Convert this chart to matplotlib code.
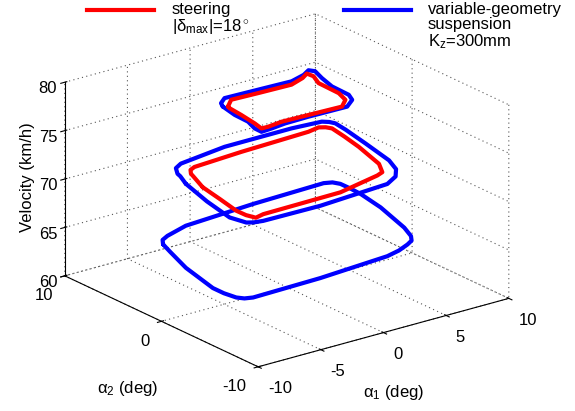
import matplotlib
matplotlib.use('Agg')
import matplotlib.pyplot as plt
from matplotlib.lines import Line2D

plt.rcParams['font.family'] = ['Liberation Sans', 'DejaVu Sans']
plt.rcParams['mathtext.fontset'] = 'custom'
plt.rcParams['mathtext.rm'] = 'Liberation Sans'
plt.rcParams['mathtext.it'] = 'Liberation Sans:italic'
plt.rcParams['axes.unicode_minus'] = False

# velocity levels of the loops (km/h)
v_low = 65
v_mid = 72
v_top = 79

# variable-geometry suspension (blue), alpha1 / alpha2 in deg
blue_low_a1 = [-6.85, -6.4, -5.72, -3.71, 2.02, 7.82, 8.35, 8.59, 8.6, 8.53, 8.1, 7.12, 6.56, 6.1, 5.47, 4.4, 3.2,
               -2.53, -8.01, -8.55, -8.86, -9.03, -9.03, -8.22, -7.3]
blue_low_a2 = [3.92, 4.55, 4.93, 5.64, 6.11, 6.33, 6.1, 5.6, 4.6, 3.42, 0.79, -2.92, -4.34, -5.0, -5.39, -5.9, -6.25,
               -6.75, -6.9, -6.7, -6.26, -5.2, -4.06, -0.22, 2.6]

blue_mid_a1 = [-6.48, -5.95, -5.82, -5.3, -4.57, -0.55, 4.81, 7.06, 7.4, 7.56, 7.4, 6.92, 6.3, 5.71, 4.9, 3.68, -2.04,
               -6.55, -7.2, -7.58, -7.88, -7.3]
blue_mid_a2 = [2.04, 3.3, 3.76, 4.6, 5.04, 5.72, 5.74, 5.53, 5.2, 4.78, 3.5, 0.81, -2.41, -3.9, -4.9, -5.63, -6.12,
               -6.05, -5.9, -5.64, -4.3, -1.2]

blue_top_a1 = [-3.59, -3.32, -2.6, 0.0, 2.59, 3.9, 4.63, 4.86, 4.47, 4.08, 4.03, 3.66, 2.68, -0.35, -2.26, -3.48,
               -4.35, -4.33, -3.94, -3.89]
blue_top_a2 = [1.97, 2.5, 3.07, 2.97, 2.86, 3.3, 3.76, 3.37, 2.17, 0.62, -1.19, -2.02, -2.77, -2.7, -2.75, -2.94,
               -3.02, -2.3, -1.1, 0.35]

# steering |delta_max| = 18 deg (red)
red_mid_a1 = [-5.99, -5.3, -5.14, -4.75, -4.24, -0.25, 5.3, 6.28, 6.65, 6.85, 6.6, 6.22, 5.42, 4.69, 4.08, 0.41,
              -5.83, -6.58, -6.8, -6.82, -6.4]
red_mid_a2 = [0.94, 2.8, 3.25, 3.8, 4.06, 4.38, 4.63, 4.85, 4.6, 4.2, 2.6, 0.61, -2.51, -3.8, -4.07, -5.01,
              -5.12, -5.33, -4.6, -3.62, -1.4]

red_top_a1 = [-3.33, -2.44, -0.37, 2.23, 3.5, 4.19, 4.24, 3.76, 3.7, 3.32, 2.42, -0.17, -2.25, -3.47, -3.99, -3.79,
              -3.56, -3.43]
red_top_a2 = [1.77, 2.59, 2.49, 2.4, 2.9, 3.36, 2.73, 1.59, -0.58, -1.76, -2.57, -2.46, -2.38, -2.57, -2.55, -1.6,
              0.1, 1.47]


def loop(ax, a1, a2, v, color):
    # cierra el contorno
    xs = list(a1) + [a1[0]]
    ys = list(a2) + [a2[0]]
    ax.plot(xs, ys, [v] * len(xs), color=color, lw=3, solid_joinstyle='round', solid_capstyle='round')


fig = plt.figure(figsize=(5.75, 4.11), dpi=100)
ax = fig.add_axes([-0.096, -0.0623, 1.167, 1.167], projection='3d', proj_type='ortho', computed_zorder=False)
ax.set_box_aspect((313, 317, 206))
ax.view_init(elev=21, azim=-127.3)

loop(ax, blue_low_a1, blue_low_a2, v_low, 'blue')
loop(ax, blue_mid_a1, blue_mid_a2, v_mid, 'blue')
loop(ax, red_mid_a1, red_mid_a2, v_mid, 'red')
loop(ax, blue_top_a1, blue_top_a2, v_top, 'blue')
loop(ax, red_top_a1, red_top_a2, v_top, 'red')

ax.set_xlim(-10, 10)
ax.set_ylim(-10, 10)
ax.set_zlim(60, 80)
ax.set_xticks([-10, -5, 0, 5, 10])
ax.set_yticks([-10, 0, 10])
ax.set_zticks([60, 65, 70, 75, 80])

for axis in (ax.xaxis, ax.yaxis, ax.zaxis):
    axis.set_pane_color((1, 1, 1, 0))
    axis.pane.set_edgecolor('none')
    axis.line.set_color('black')
    axis.line.set_linewidth(0.8)
    axis._axinfo['grid'].update(color='#555555', linewidth=0.8, linestyle=(0, (1, 3)))

ax.tick_params(labelsize=12)
ax.tick_params(axis='x', pad=1)
ax.tick_params(axis='y', pad=0.5)
ax.tick_params(axis='z', pad=-1.2)
plt.setp(ax.get_xticklabels(), ha='left')
plt.setp(ax.get_yticklabels(), ha='right')

ax.xaxis.set_rotate_label(False)
ax.yaxis.set_rotate_label(False)
ax.zaxis.set_rotate_label(False)
ax.xaxis._axinfo['label']['ha'] = 'right'
ax.yaxis._axinfo['label']['ha'] = 'left'
ax.set_xlabel('α$_\\mathregular{1}$ (deg)', fontsize=12, labelpad=17)
ax.set_ylabel('α$_\\mathregular{2}$ (deg)', fontsize=12, labelpad=25)
ax.set_zlabel('Velocity (km/h)', fontsize=12, rotation=90, labelpad=-6)

# leyenda a mano, estilo MATLAB
fig.add_artist(Line2D([87 / 575, 154 / 575], [1 - 10 / 411, 1 - 10 / 411], color='red', lw=3))
fig.add_artist(Line2D([344 / 575, 411 / 575], [1 - 10 / 411, 1 - 10 / 411], color='blue', lw=3))
fig.text(172 / 575, 1 - 2 / 411, 'steering\n|δ$_\\mathregular{max}$|=18$^\\circ$', fontsize=12, va='top', linespacing=1.0)
fig.text(428 / 575, 1 - 2 / 411, 'variable-geometry\nsuspension\nK$_\\mathregular{z}$=300mm', fontsize=12, va='top', linespacing=1.0)

fig.savefig('out.png', dpi=100)
